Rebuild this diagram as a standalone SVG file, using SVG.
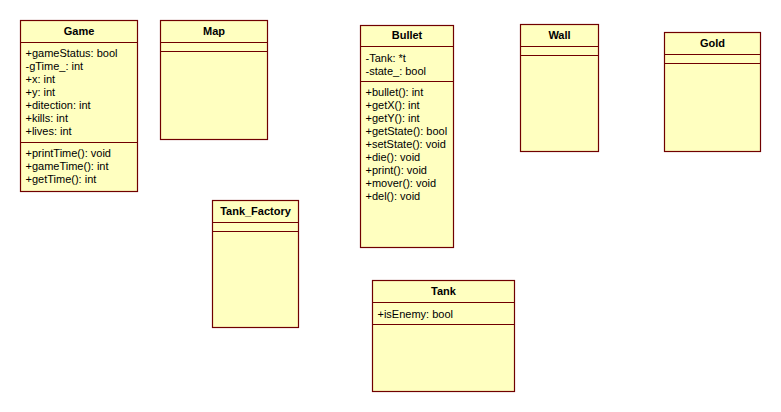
<svg xmlns="http://www.w3.org/2000/svg" width="781" height="412" viewBox="0 0 781 412">
<style>
.box{fill:#FFFFC0;stroke:#700000;stroke-width:1.2}
.ln{stroke:#700000;stroke-width:1.2}
text{font-family:"Liberation Sans",Arial,sans-serif;font-size:11px;fill:#000}
.t{font-weight:bold;text-anchor:middle}
</style>
<rect width="781" height="412" fill="#fff"/>
<g id="Game">
<rect class="box" x="20.5" y="20.5" width="117" height="171"/>
<line class="ln" x1="20.5" y1="42.5" x2="137.5" y2="42.5"/>
<line class="ln" x1="20.5" y1="142.5" x2="137.5" y2="142.5"/>
<text class="t" x="79" y="35">Game</text>
<text x="25.5" y="56.5">+gameStatus: bool</text>
<text x="25.5" y="69.5">-gTime_: int</text>
<text x="25.5" y="82.5">+x: int</text>
<text x="25.5" y="95.5">+y: int</text>
<text x="25.5" y="108.5">+ditection: int</text>
<text x="25.5" y="121.5">+kills: int</text>
<text x="25.5" y="134.5">+lives: int</text>
<text x="25.5" y="157">+printTime(): void</text>
<text x="25.5" y="170">+gameTime(): int</text>
<text x="25.5" y="183">+getTime(): int</text>
</g>
<g id="Map">
<rect class="box" x="160.5" y="20.5" width="107" height="119"/>
<line class="ln" x1="160.5" y1="42.5" x2="267.5" y2="42.5"/>
<line class="ln" x1="160.5" y1="51.5" x2="267.5" y2="51.5"/>
<text class="t" x="214" y="35">Map</text>
</g>
<g id="Bullet">
<rect class="box" x="360.5" y="25.5" width="93" height="222"/>
<line class="ln" x1="360.5" y1="46.5" x2="453.5" y2="46.5"/>
<line class="ln" x1="360.5" y1="81.5" x2="453.5" y2="81.5"/>
<text class="t" x="407" y="39">Bullet</text>
<text x="365.5" y="61.5">-Tank: *t</text>
<text x="365.5" y="74.5">-state_: bool</text>
<text x="365.5" y="96">+bullet(): int</text>
<text x="365.5" y="109">+getX(): int</text>
<text x="365.5" y="122">+getY(): int</text>
<text x="365.5" y="135">+getState(): bool</text>
<text x="365.5" y="148">+setState(): void</text>
<text x="365.5" y="161">+die(): void</text>
<text x="365.5" y="174">+print(): void</text>
<text x="365.5" y="187">+mover(): void</text>
<text x="365.5" y="200">+del(): void</text>
</g>
<g id="Wall">
<rect class="box" x="520.5" y="24.5" width="78" height="127"/>
<line class="ln" x1="520.5" y1="46.5" x2="598.5" y2="46.5"/>
<line class="ln" x1="520.5" y1="55.5" x2="598.5" y2="55.5"/>
<text class="t" x="559.5" y="39">Wall</text>
</g>
<g id="Gold">
<rect class="box" x="664.5" y="32.5" width="96" height="119"/>
<line class="ln" x1="664.5" y1="54.5" x2="760.5" y2="54.5"/>
<line class="ln" x1="664.5" y1="63.5" x2="760.5" y2="63.5"/>
<text class="t" x="712.5" y="47">Gold</text>
</g>
<g id="Tank_Factory">
<rect class="box" x="212.5" y="200.5" width="86" height="127"/>
<line class="ln" x1="212.5" y1="222.5" x2="298.5" y2="222.5"/>
<line class="ln" x1="212.5" y1="231.5" x2="298.5" y2="231.5"/>
<text class="t" x="255.5" y="215">Tank_Factory</text>
</g>
<g id="Tank">
<rect class="box" x="372.5" y="280.5" width="142" height="111"/>
<line class="ln" x1="372.5" y1="302.5" x2="514.5" y2="302.5"/>
<line class="ln" x1="372.5" y1="324.5" x2="514.5" y2="324.5"/>
<text class="t" x="443.5" y="295">Tank</text>
<text x="377.5" y="317.5">+isEnemy: bool</text>
</g>
<g id="connectors"></g>
</svg>
